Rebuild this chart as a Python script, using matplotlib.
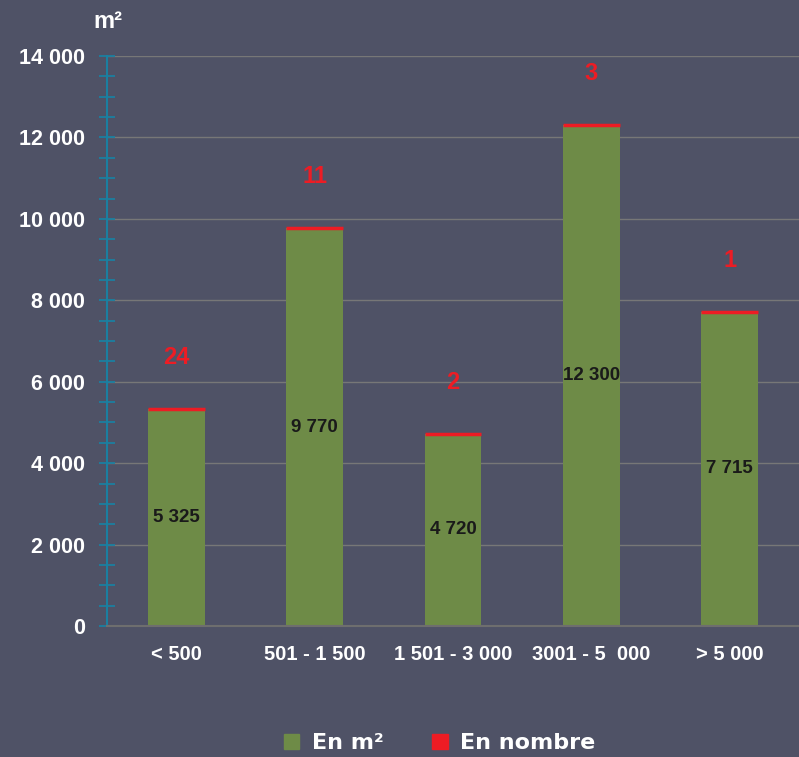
import matplotlib.pyplot as plt
from matplotlib.patches import Patch
from matplotlib.ticker import MultipleLocator, FuncFormatter

categories = ['< 500', '501 - 1 500', '1 501 - 3 000', '3001 - 5  000', '> 5 000']
surface = [5325, 9770, 4720, 12300, 7715]
surface_labels = ['5 325', '9 770', '4 720', '12 300', '7 715']
nombre = [24, 11, 2, 3, 1]

bg = '#4f5266'
green = '#6e8b47'
red = '#ed1c24'

fig = plt.figure(figsize=(7.99, 7.57), dpi=100, facecolor=bg)
ax = fig.add_axes([0.134, 0.173, 0.866, 0.753], facecolor=bg)

x = list(range(len(categories)))
w = 0.41
ax.bar(x, surface, width=w, color=green, zorder=2)
# thin red cap on top of each bar for "En nombre"
ax.hlines(surface, [i - w / 2 for i in x], [i + w / 2 for i in x],
          color=red, lw=2.5, zorder=3)

for i in x:
    ax.text(i, surface[i] / 2, surface_labels[i], ha='center', va='center',
            fontsize=13.5, fontweight='bold', color='#1a1a1a',
            family='Liberation Sans', zorder=4)
    ax.annotate(str(nombre[i]), (i, surface[i]), xytext=(0, 37),
                textcoords='offset points', ha='center', va='center',
                fontsize=17, fontweight='bold', color=red,
                family='Liberation Sans')

ax.set_xlim(-0.5, 4.5)
ax.set_ylim(0, 14000)
ax.yaxis.set_major_locator(MultipleLocator(2000))
ax.yaxis.set_minor_locator(MultipleLocator(500))
ax.yaxis.set_major_formatter(FuncFormatter(lambda v, p: f'{int(v):,}'.replace(',', ' ')))
ax.grid(axis='y', color='#777777', lw=1, zorder=0)

ax.set_xticks(x)
ax.set_xticklabels(categories)
ax.tick_params(axis='x', length=0, pad=14, labelsize=14.5, colors='white')
ax.tick_params(axis='y', which='both', direction='inout', length=12, width=1.3,
               color='#1b7fa0', labelsize=15.5, labelcolor='white', pad=10)
for lab in ax.get_xticklabels() + ax.get_yticklabels():
    lab.set_fontweight('bold')
    lab.set_family('Liberation Sans')

for s in ['top', 'right']:
    ax.spines[s].set_visible(False)
ax.spines['left'].set_color('#1b7fa0')
ax.spines['left'].set_linewidth(1.5)
ax.spines['bottom'].set_color('#6e6e6e')
ax.spines['bottom'].set_linewidth(1.5)

fig.text(0.135, 0.972, 'm²', ha='center', va='center', fontsize=17,
         fontweight='bold', color='white', family='Liberation Sans')

handles = [Patch(color=green, label='En m²'), Patch(color=red, label='En nombre')]
fig.legend(handles=handles, loc='center', bbox_to_anchor=(0.55, 0.018), ncol=2,
           frameon=False, handlelength=0.7, handleheight=0.7, columnspacing=2.2,
           handletextpad=0.55,
           prop={'size': 16, 'weight': 'bold', 'family': 'DejaVu Sans'},
           labelcolor='white')

fig.savefig('out.png', dpi=100, facecolor=bg)
